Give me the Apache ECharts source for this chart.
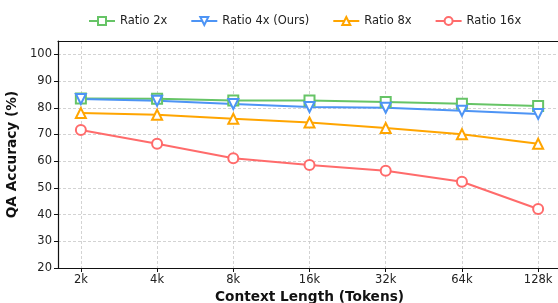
<!DOCTYPE html>
<html>
<head>
<meta charset="utf-8">
<script src="https://cdn.jsdelivr.net/npm/echarts@6/dist/echarts.min.js"></script>
<style>
  html, body { margin: 0; padding: 0; background: #fff; }
  #main { width: 558px; height: 303px; }
</style>
</head>
<body>
<div id="main"></div>
<script>
// data
var contextLengths = ['2k', '4k', '8k', '16k', '32k', '64k', '128k'];
var ratio2x  = [83.5, 83.4, 82.7, 82.7, 82.2, 81.5, 80.7];
var ratio4x  = [83.3, 82.6, 81.4, 80.3, 80.0, 78.9, 77.7];
var ratio8x  = [78.0, 77.4, 75.9, 74.5, 72.4, 70.1, 66.5];
var ratio16x = [71.7, 66.5, 61.1, 58.6, 56.4, 52.3, 42.1];
var yTicks = [20, 30, 40, 50, 60, 70, 80, 90, 100];

var font = 'DejaVu Sans';
var xIdx = contextLengths.map(function (c, i) { return i; });

function pairs(vals) {
  return vals.map(function (v, i) { return [i, v]; });
}

function mkSeries(name, vals, color, symbol, rotate) {
  return {
    name: name,
    type: 'line',
    data: pairs(vals),
    symbol: symbol,
    symbolRotate: rotate || 0,
    symbolSize: 10,
    lineStyle: { color: color, width: 2 },
    itemStyle: { color: '#fff', borderColor: color, borderWidth: 2 },
    emphasis: { disabled: true },
    animation: false
  };
}

var dom = document.getElementById('main');
var myChart = echarts.init(dom);
var option = {
  backgroundColor: '#fff',
  textStyle: { fontFamily: font },
  legend: {
    top: 10,
    left: 83,
    itemWidth: 26,
    itemHeight: 10,
    itemGap: 23,
    textStyle: { fontFamily: font, fontSize: 11.5, color: '#222' },
    data: ['Ratio 2x', 'Ratio 4x (Ours)', 'Ratio 8x', 'Ratio 16x']
  },
  grid: { left: 58, top: 41, width: 503, height: 227, containLabel: false, outerBoundsMode: 'none' },
  xAxis: [{
    type: 'value',
    min: -0.3,
    max: 6.3,
    name: 'Context Length (Tokens)',
    nameLocation: 'middle',
    nameGap: 22,
    nameTextStyle: { fontFamily: font, fontSize: 13.7, fontWeight: 'bold', color: '#111' },
    axisLine: { show: true, onZero: false, lineStyle: { color: '#111', width: 1.2 } },
    axisTick: { show: true, length: 4, customValues: xIdx, lineStyle: { color: '#111' } },
    axisLabel: {
      customValues: xIdx,
      fontSize: 11.5, color: '#222', margin: 6,
      formatter: function (v) { return contextLengths[Math.round(v)]; }
    },
    splitLine: { show: true, lineStyle: { color: '#c8c8c8', type: [3, 2], width: 0.8 } }
  }, {
    type: 'value',
    position: 'top',
    min: -0.3,
    max: 6.3,
    axisLine: { show: true, onZero: false, lineStyle: { color: '#111', width: 1.2 } },
    axisTick: { show: false },
    axisLabel: { show: false },
    splitLine: { show: false }
  }],
  yAxis: {
    type: 'value',
    min: 20,
    max: 105,
    interval: 10,
    name: 'QA Accuracy (%)',
    nameLocation: 'middle',
    nameGap: 35,
    nameTextStyle: { fontFamily: font, fontSize: 13.7, fontWeight: 'bold', color: '#111' },
    axisLine: { show: true, onZero: false, lineStyle: { color: '#111', width: 1.2 } },
    axisTick: { show: true, length: 4, customValues: yTicks, lineStyle: { color: '#111' } },
    axisLabel: { customValues: yTicks, fontSize: 11.5, color: '#222', margin: 6 },
    splitLine: { show: true, lineStyle: { color: '#c8c8c8', type: [3, 2], width: 0.8 } }
  },
  series: [
    mkSeries('Ratio 2x', ratio2x, '#66c466', 'rect'),
    mkSeries('Ratio 4x (Ours)', ratio4x, '#4d94f5', 'triangle', 180),
    mkSeries('Ratio 8x', ratio8x, '#ffa500', 'triangle'),
    mkSeries('Ratio 16x', ratio16x, '#ff6b6b', 'circle')
  ]
};
myChart.setOption(option, true);
window.onresize = function () {
  myChart.resize();
};
</script>
</body>
</html>
